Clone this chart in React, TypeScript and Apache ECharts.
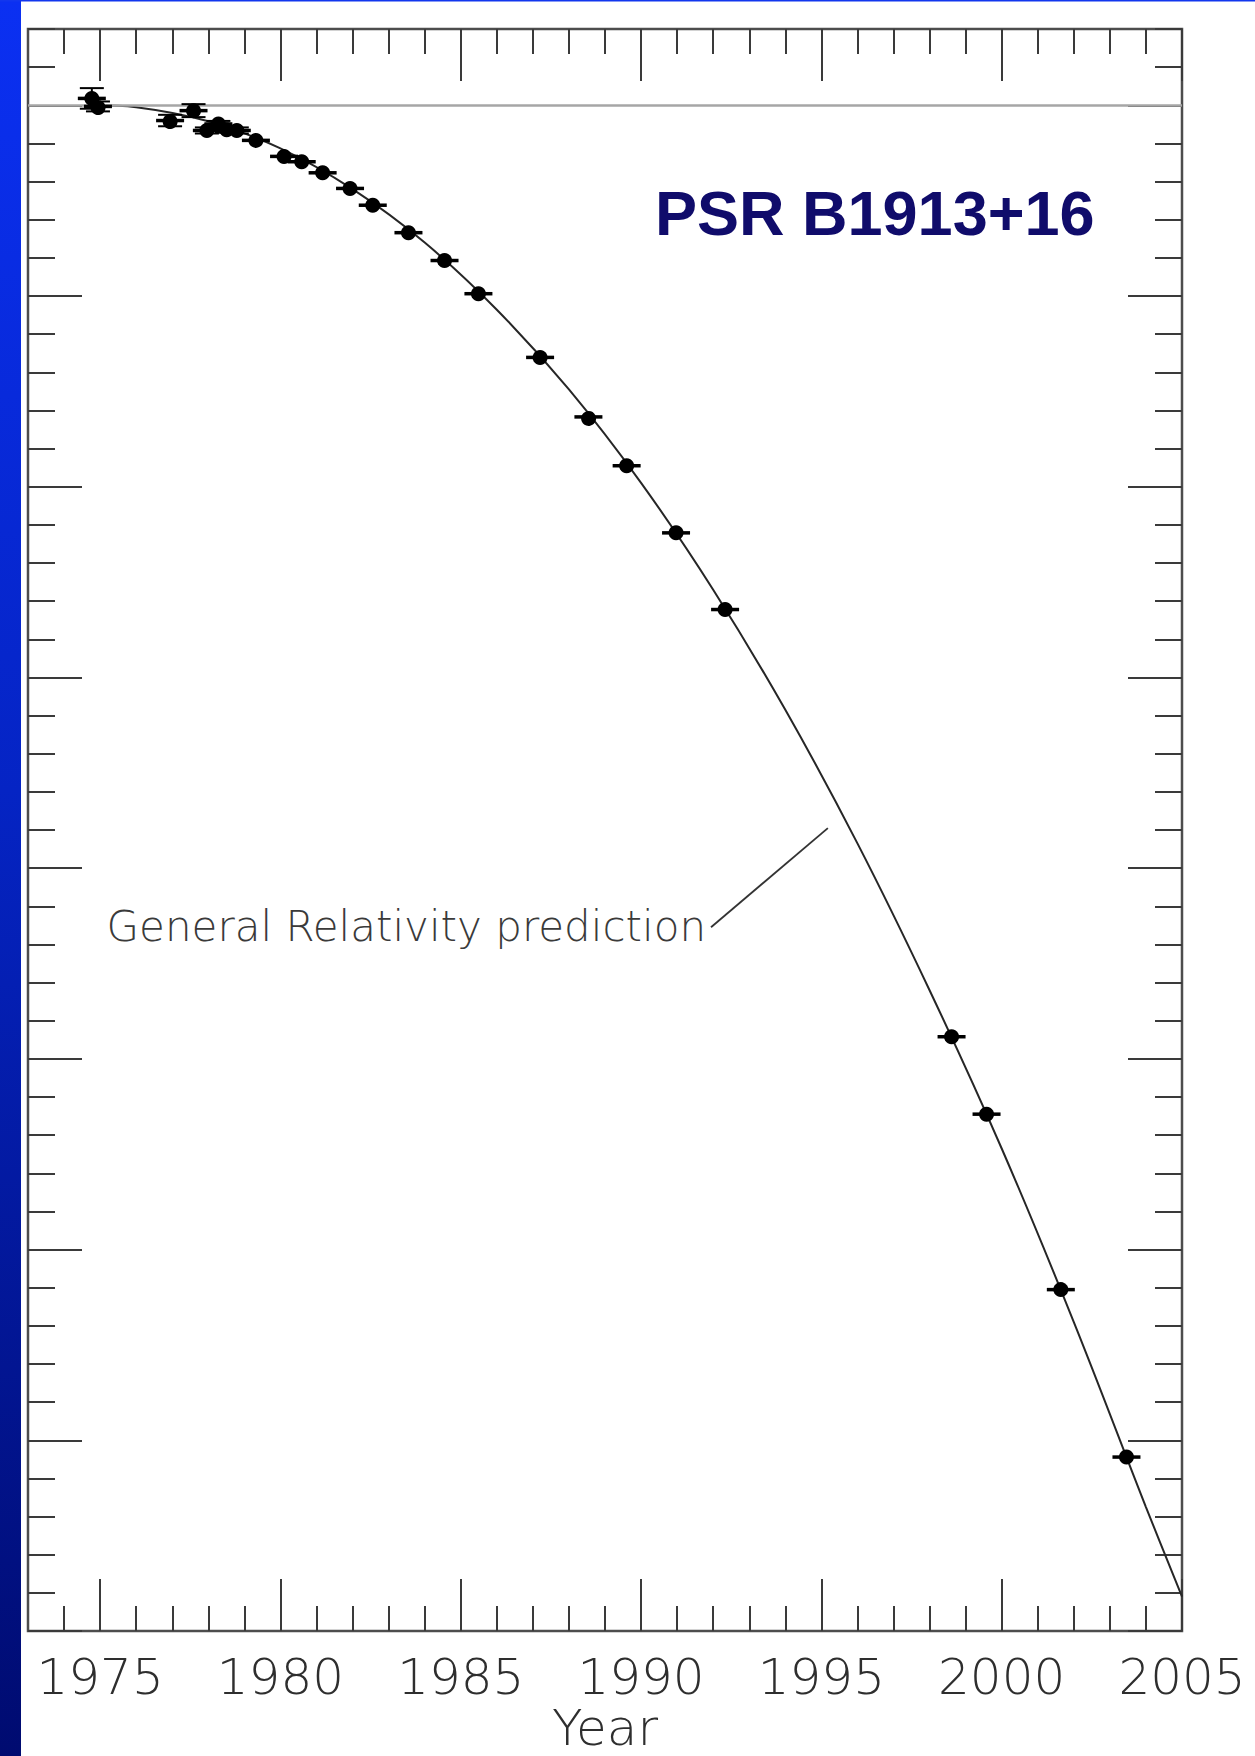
import React, { useEffect, useRef } from "react";
import * as echarts from "echarts";

// Observed cumulative shift of periastron time (s) for PSR B1913+16
const obsYears = [
  1974.77, 1974.94, 1976.94, 1977.59, 1977.96, 1978.28, 1978.51, 1978.79, 1979.32,
  1980.1, 1980.59, 1981.17, 1981.93, 1982.56, 1983.55, 1984.55, 1985.49, 1987.2,
  1988.54, 1989.6, 1990.97, 1992.33, 1998.61, 1999.58, 2001.64, 2003.46,
];
const obsShift = [
  0.18, -0.03, -0.4, -0.14, -0.66, -0.49, -0.64, -0.66, -0.92, -1.34, -1.48, -1.77,
  -2.18, -2.62, -3.34, -4.07, -4.94, -6.61, -8.17, -9.45, -11.21, -13.22, -24.42,
  -26.45, -31.05, -35.44,
];
const obsError = [
  0.27, 0.13, 0.15, 0.17, 0.08, 0.08, 0.08, 0.08, 0, 0, 0, 0, 0, 0, 0, 0, 0, 0, 0, 0,
  0, 0, 0, 0, 0, 0,
];

// General Relativity prediction curve
const curveYears = [
  1974.8, 1976, 1978, 1980, 1982, 1984, 1986, 1988, 1990, 1992, 1994, 1996, 1998,
  2000, 2002, 2004, 2005,
];
const curveShift = [
  0, -0.05, -0.42, -1.13, -2.2, -3.6, -5.36, -7.45, -9.9, -12.7, -15.85, -19.35,
  -23.2, -27.35, -31.9, -36.75, -39.1,
];

// Axis ticks
const majorYears = [1975, 1980, 1985, 1990, 1995, 2000, 2005];
const minorYears = [
  1974, 1976, 1977, 1978, 1979, 1981, 1982, 1983, 1984, 1986, 1987, 1988, 1989, 1991,
  1992, 1993, 1994, 1996, 1997, 1998, 1999, 2001, 2002, 2003, 2004,
];
const majorShift = [0, -5, -10, -15, -20, -25, -30, -35, -40];
const minorShift = [
  2, 1, -1, -2, -3, -4, -6, -7, -8, -9, -11, -12, -13, -14, -16, -17, -18, -19, -21, -22,
  -23, -24, -26, -27, -28, -29, -31, -32, -33, -34, -36, -37, -38, -39,
];

const leaderFrom = [1991.94, -21.55];
const leaderTo = [1995.18, -18.95];

const X_MIN = 1973;
const X_MAX = 2005;
const Y_MIN = -40;
const Y_MAX = 2;

const TICK_COLOR = "#3a3a3a";
const THIN_FONT = "'DejaVu Sans', 'Liberation Sans', sans-serif";
const labelFont = {
  fontFamily: THIN_FONT,
  fontWeight: 200 as any,
  fontSize: 50,
  lineHeight: 48,
  color: "#2e2e2e",
};

function xAx(position: "top" | "bottom", values: number[], len: number, labels: boolean) {
  return {
    type: "value",
    gridIndex: 0,
    position,
    min: X_MIN,
    max: X_MAX,
    axisLine: { show: false, onZero: false },
    splitLine: { show: false },
    axisTick: {
      show: true,
      inside: true,
      length: len,
      customValues: values,
      lineStyle: { color: TICK_COLOR, width: 2 },
    },
    axisLabel: labels
      ? {
          show: true,
          customValues: values,
          margin: 22,
          formatter: (v: number) => String(v),
          ...labelFont,
        }
      : { show: false },
    ...(labels
      ? {
          name: "Year",
          nameLocation: "middle",
          nameGap: 73,
          nameMoveOverlap: false,
          nameTextStyle: { ...labelFont, verticalAlign: "top" },
        }
      : {}),
  };
}

function yAx(position: "left" | "right", values: number[], len: number) {
  return {
    type: "value",
    gridIndex: 0,
    position,
    min: Y_MIN,
    max: Y_MAX,
    axisLine: { show: false, onZero: false },
    splitLine: { show: false },
    axisLabel: { show: false },
    axisTick: {
      show: true,
      inside: true,
      length: len,
      customValues: values,
      lineStyle: { color: TICK_COLOR, width: 2 },
    },
  };
}

export default function App() {
  const ref = useRef<HTMLDivElement>(null);

  useEffect(() => {
    if (!ref.current) return;
    const chart = echarts.init(ref.current, null, { renderer: "svg" });

    const points = obsYears.map((y, i) => [y, obsShift[i], obsError[i]]);
    const curve = curveYears.map((y, i) => [y, curveShift[i]]);

    chart.setOption({
      animation: false,
      backgroundColor: "#ffffff",
      grid: {
        left: 28,
        top: 29,
        width: 1154,
        height: 1602,
        show: true,
        borderColor: "#4d4d4d",
        borderWidth: 2.5,
        backgroundColor: "transparent",
        containLabel: false,
        outerBoundsMode: "none",
      },
      xAxis: [
        xAx("bottom", majorYears, 52, true),
        xAx("bottom", minorYears, 25, false),
        xAx("top", majorYears, 52, false),
        xAx("top", minorYears, 25, false),
      ],
      yAxis: [
        yAx("left", majorShift, 54),
        yAx("left", minorShift, 27),
        yAx("right", majorShift, 54),
        yAx("right", minorShift, 27),
      ],
      graphic: [
        {
          type: "rect",
          shape: { x: 0, y: 0, width: 21, height: 1756 },
          style: {
            fill: new echarts.graphic.LinearGradient(0, 0, 0, 1, [
              { offset: 0, color: "#0b30f2" },
              { offset: 0.45, color: "#0524c4" },
              { offset: 1, color: "#000b70" },
            ]),
          },
          z: 10,
        },
        {
          type: "rect",
          shape: { x: 0, y: 0, width: 1255, height: 1.5 },
          style: { fill: "#1236ee" },
          z: 10,
        },
        {
          type: "text",
          x: 655,
          y: 213,
          style: {
            text: "PSR B1913+16",
            fontFamily: "'Liberation Sans', Arial, sans-serif",
            fontWeight: "bold",
            fontSize: 63,
            fill: "#100c6b",
            align: "left",
            verticalAlign: "middle",
          },
          z: 10,
        },
        {
          type: "text",
          x: 706,
          y: 926,
          style: {
            text: "General Relativity prediction",
            fontFamily: THIN_FONT,
            fontWeight: 200,
            fontSize: 42,
            fill: "#3a3a3a",
            align: "right",
            verticalAlign: "middle",
          },
          z: 10,
        },
      ],
      series: [
        {
          type: "line",
          name: "General Relativity prediction",
          data: curve,
          xAxisIndex: 0,
          yAxisIndex: 0,
          smooth: 0.35,
          showSymbol: false,
          symbol: "none",
          lineStyle: { color: "#262626", width: 2 },
          z: 3,
          markLine: {
            silent: true,
            symbol: ["none", "none"],
            label: { show: false },
            data: [
              { yAxis: 0, lineStyle: { color: "#a6a6a6", width: 2.5, type: "solid" } },
              [
                { coord: leaderFrom, lineStyle: { color: "#333333", width: 1.8, type: "solid" } },
                { coord: leaderTo },
              ],
            ],
          },
        },
        {
          type: "custom",
          name: "Observed",
          xAxisIndex: 0,
          yAxisIndex: 0,
          data: points,
          encode: { x: 0, y: 1 },
          z: 5,
          renderItem: (params: any, api: any) => {
            const x = api.value(0);
            const y = api.value(1);
            const e = api.value(2);
            const c = api.coord([x, y]);
            const children: any[] = [];
            const stroke = { stroke: "#000", lineWidth: 2 };
            if (e > 0) {
              const top = api.coord([x, y + e]);
              const bot = api.coord([x, y - e]);
              children.push({
                type: "line",
                shape: { x1: c[0], y1: top[1], x2: c[0], y2: bot[1] },
                style: stroke,
              });
              children.push({
                type: "line",
                shape: { x1: c[0] - 12, y1: top[1], x2: c[0] + 12, y2: top[1] },
                style: stroke,
              });
              children.push({
                type: "line",
                shape: { x1: c[0] - 12, y1: bot[1], x2: c[0] + 12, y2: bot[1] },
                style: stroke,
              });
            }
            children.push({
              type: "line",
              shape: { x1: c[0] - 14, y1: c[1], x2: c[0] + 14, y2: c[1] },
              style: { stroke: "#000", lineWidth: 3.5 },
            });
            children.push({
              type: "circle",
              shape: { cx: c[0], cy: c[1], r: 7.5 },
              style: { fill: "#000" },
            });
            return { type: "group", children };
          },
        },
      ],
    });

    return () => chart.dispose();
  }, []);

  return (
    <div
      ref={ref}
      style={{
        position: "absolute",
        left: 0,
        top: 0,
        width: 1255,
        height: 1756,
        background: "#fff",
      }}
    />
  );
}
